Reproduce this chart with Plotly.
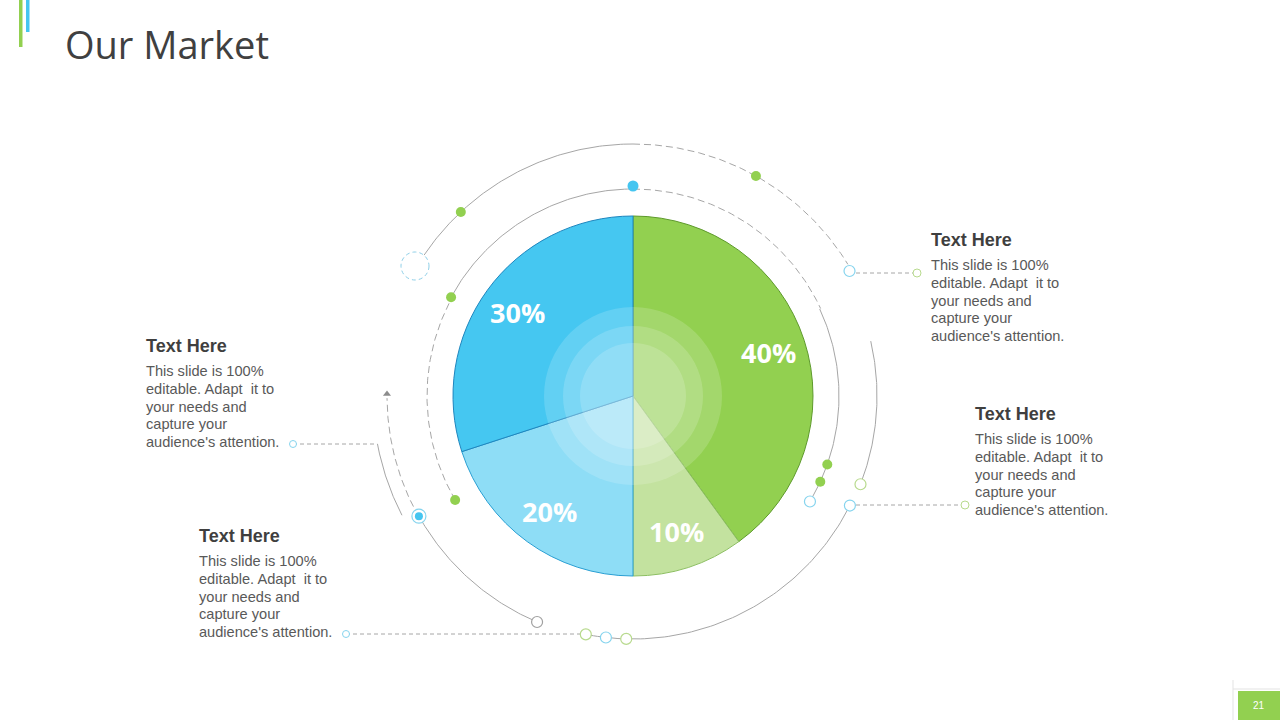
import math
import plotly.graph_objects as go

# ---------------- data ----------------
slice_labels = ["Segment A", "Segment B", "Segment C", "Segment D"]
slice_values = [40, 10, 20, 30]
slice_colors = ["#92D050", "#C3E29F", "#8EDDF6", "#45C7F1"]
slice_edges = ["#5E9A2C", "#8DBF62", "#2A9FD3", "#1F86BE"]

page_title = "Our Market"
page_number = "21"
block_titles = ["Text Here", "Text Here", "Text Here", "Text Here"]
block_body = ["This slide is 100%", "editable. Adapt  it to", "your needs and",
              "capture your", "audience's attention."]

# ---------------- layout constants ----------------
W, H = 1280, 720
CX, CY, R = 633, 396, 180
GRAY = "#A6A6A6"
GREEN = "#92D050"
BLUE = "#45C5F0"
BLUE_O = "#86D4EE"
GREEN_O = "#B8DA8E"
DASH = "7px,4px"


def polar(r, deg):
    a = math.radians(deg)
    return CX + r * math.sin(a), CY - r * math.cos(a)


def arc(r, a0, a1, n=80):
    xs, ys = [], []
    for i in range(n + 1):
        x, y = polar(r, a0 + (a1 - a0) * i / n)
        xs.append(x)
        ys.append(y)
    return xs, ys


fig = go.Figure()

# decorative arcs
arcs = [
    (252, -56, 0, "solid"),
    (252, 0, 58.5, DASH),
    (206, 239.7, 298.5, DASH),
    (207, -61.5, 0, "solid"),
    (207, 0, 65, DASH),
    (206, 65, 120.8, "solid"),
    (244, 77, 111.2, "solid"),
    (243, 116.8, 191.2, "solid"),
    (245.5, 203, 240.7, "solid"),
    (246, 240.7, 269.5, DASH),
    (260, 242.7, 259.4, "solid"),
]
for r, a0, a1, dash in arcs:
    xs, ys = arc(r, a0, a1)
    fig.add_trace(go.Scatter(x=xs, y=ys, mode="lines", hoverinfo="skip",
                             line=dict(color=GRAY, width=1, dash=dash)))

# dashed leader lines
leaders = [((849, 273), (917, 273)), ((849, 505), (965, 505)),
           ((346, 634), (586, 634)), ((293, 444), (377, 444))]
for (x0, y0), (x1, y1) in leaders:
    fig.add_trace(go.Scatter(x=[x0, x1], y=[y0, y1], mode="lines", hoverinfo="skip",
                             line=dict(color=GRAY, width=1, dash="4px,3px")))

# arrow head
ax, ay = polar(246, 270)
fig.add_trace(go.Scatter(x=[ax], y=[ay - 2], mode="markers", hoverinfo="skip",
                         marker=dict(symbol="triangle-up", size=7, color="#8C8C8C")))


def dots(pts, size, fill, line, lw=1):
    fig.add_trace(go.Scatter(x=[p[0] for p in pts], y=[p[1] for p in pts], mode="markers",
                             hoverinfo="skip",
                             marker=dict(size=size, color=fill, line=dict(color=line, width=lw))))


dots([polar(252, 316.9), polar(252, 29.2), polar(207, 298.5), polar(206, 239.7),
      polar(206, 109.4), polar(206, 114.6)], 10, GREEN, GREEN, 0)
dots([polar(210, 0)], 11, BLUE, BLUE, 0)
tx, ty = polar(245.5, 240.7)
dots([(tx, ty)], 14, "white", BLUE_O, 1.2)
dots([(tx, ty)], 8, BLUE, BLUE, 0)
dots([polar(250, 60), polar(206, 120.8), polar(243, 116.8), polar(243, 186.4)], 11,
     "white", BLUE_O, 1.2)
dots([polar(244, 111.2), polar(243, 181.6), polar(243, 191.2)], 11, "white", GREEN_O, 1.2)
dots([polar(245.5, 203)], 11, "white", "#A0A0A0", 1.2)
dots([(917, 273), (965, 505)], 8, "white", GREEN_O, 1)
dots([(346, 634), (293, 444)], 7, "white", BLUE_O, 1)

# pie
fig.add_trace(go.Pie(
    labels=slice_labels, values=slice_values, sort=False, direction="clockwise",
    rotation=0, textinfo="none", hoverinfo="skip", showlegend=False,
    marker=dict(colors=slice_colors, line=dict(color=slice_edges, width=1)),
    domain=dict(x=[(CX - R) / W, (CX + R) / W], y=[(H - CY - R) / H, (H - CY + R) / H]),
))

shapes = []
# soft concentric rings in pie centre
for rr in (89, 70, 53):
    shapes.append(dict(type="circle", xref="x", yref="y", x0=CX - rr, x1=CX + rr,
                       y0=CY - rr, y1=CY + rr, layer="above",
                       fillcolor="rgba(255,255,255,0.16)", line=dict(width=0)))
# dashed ring
shapes.append(dict(type="circle", xref="x", yref="y", x0=401, x1=429, y0=252, y1=280,
                   line=dict(color="#8ECFE8", width=1, dash="4px,3px"), fillcolor="rgba(0,0,0,0)"))
# title bars
shapes.append(dict(type="rect", xref="x", yref="y", x0=19, x1=22.5, y0=0, y1=47,
                   fillcolor=GREEN, line=dict(width=0)))
shapes.append(dict(type="rect", xref="x", yref="y", x0=26, x1=29.5, y0=0, y1=32,
                   fillcolor=BLUE, line=dict(width=0)))
# page number box
shapes.append(dict(type="line", xref="x", yref="y", x0=1233, x1=1233, y0=680, y1=720,
                   line=dict(color="#E3E3E3", width=1)))
shapes.append(dict(type="line", xref="x", yref="y", x0=1233, x1=1280, y0=689, y1=689,
                   line=dict(color="#E3E3E3", width=1)))
shapes.append(dict(type="rect", xref="x", yref="y", x0=1238, x1=1280, y0=691, y1=720,
                   fillcolor=GREEN, line=dict(width=0)))

ann = []
# percentage labels from data
total = sum(slice_values)
start = 0.0
for v in slice_values:
    mid = start + v / total * 180
    lx, ly = polar(R * 0.79, mid)
    ann.append(dict(x=lx, y=ly, xref="x", yref="y", text=f"<b>{v}%</b>", showarrow=False,
                    font=dict(family="Open Sans", size=27, color="white"),
                    xanchor="center", yanchor="middle"))
    start += v / total * 360

ann.append(dict(x=64, y=44, xref="x", yref="y", text=page_title, showarrow=False,
                font=dict(family="Open Sans", size=38, color="#404040"),
                xanchor="left", yanchor="middle", borderpad=0))
ann.append(dict(x=1259, y=705, xref="x", yref="y", text=page_number, showarrow=False,
                font=dict(family="Arial, Liberation Sans", size=10, color="white"),
                xanchor="center", yanchor="middle"))

block_pos = [(931, 240), (975, 414), (146, 346), (199, 536)]
for (bx, by), t in zip(block_pos, block_titles):
    ann.append(dict(x=bx - 1, y=by, xref="x", yref="y", text=f"<b>{t}</b>", showarrow=False,
                    font=dict(family="Arial, Liberation Sans", size=18, color="#3F3F3F"),
                    xanchor="left", yanchor="middle", borderpad=0))
    for i, line in enumerate(block_body):
        ann.append(dict(x=bx - 1, y=by + 25 + i * 17.8, xref="x", yref="y", text=line,
                        showarrow=False, align="left",
                        font=dict(family="Arial, Liberation Sans", size=14.6, color="#595959"),
                        xanchor="left", yanchor="middle", borderpad=0))

fig.update_layout(
    width=W, height=H, margin=dict(l=0, r=0, t=0, b=0),
    paper_bgcolor="white", plot_bgcolor="white", showlegend=False,
    xaxis=dict(range=[0, W], visible=False, fixedrange=True),
    yaxis=dict(range=[H, 0], visible=False, fixedrange=True),
    shapes=shapes, annotations=ann,
)

fig.write_html("out.html")
